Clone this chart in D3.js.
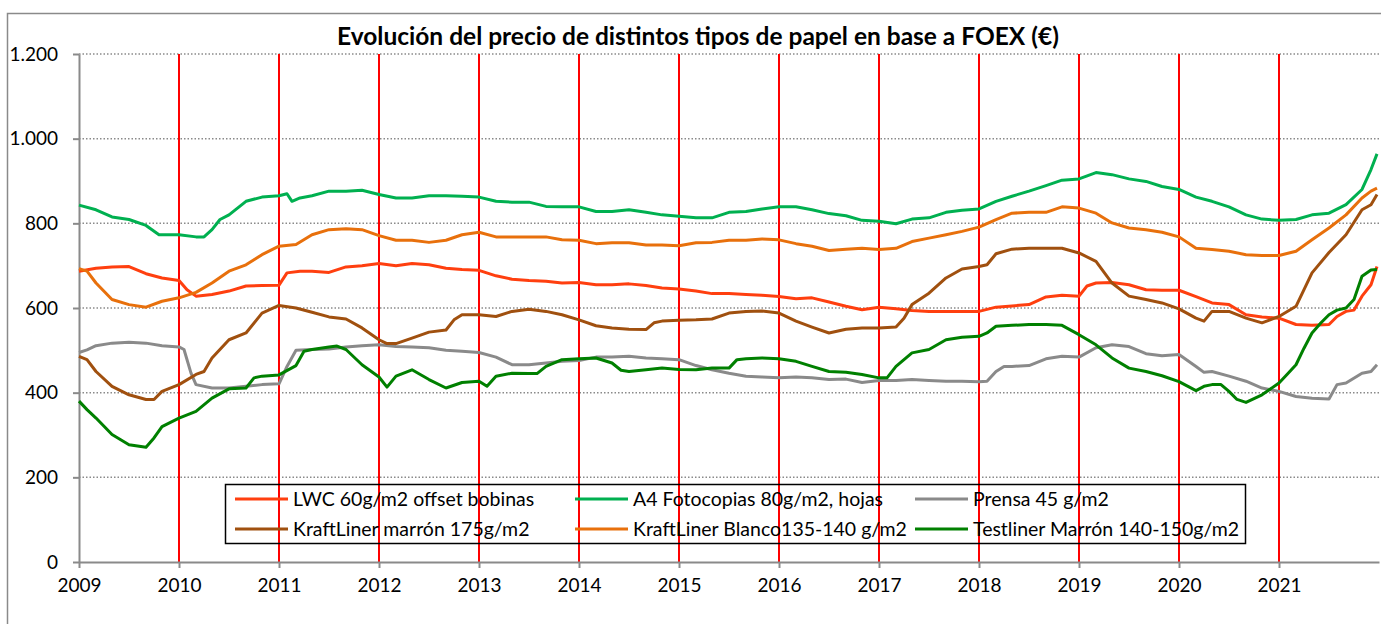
<!DOCTYPE html>
<html>
<head>
<meta charset="utf-8">
<script src="https://cdn.jsdelivr.net/npm/d3@7"></script>
<style>
  body { margin: 0; background: #fff; }
  svg { display: block; font-family: Lato, "Liberation Sans", sans-serif; }
</style>
</head>
<body>
<svg id="chart" width="1381" height="624"></svg>
<script>
// values, [year, €]
const lwc = [[2009.00,687],[2009.17,694],[2009.33,697],[2009.5,698],[2009.67,681],[2009.83,671],[2010.0,665],[2010.08,643],[2010.17,628],[2010.33,632],[2010.5,640],[2010.67,652],[2010.83,653],[2011.0,654],[2011.08,683],[2011.21,687],[2011.33,687],[2011.5,684],[2011.67,697],[2011.83,700],[2012.0,705],[2012.17,700],[2012.33,705],[2012.5,702],[2012.67,694],[2012.83,691],[2013.0,689],[2013.17,676],[2013.33,668],[2013.5,665],[2013.67,663],[2013.83,659],[2014.0,660],[2014.17,655],[2014.33,655],[2014.5,657],[2014.67,653],[2014.83,647],[2015.0,645],[2015.17,640],[2015.33,634],[2015.5,634],[2015.67,632],[2015.83,630],[2016.0,627],[2016.17,622],[2016.33,624],[2016.5,614],[2016.67,604],[2016.83,596],[2017.0,602],[2017.17,598],[2017.33,594],[2017.5,592],[2017.67,592],[2017.83,592],[2018.0,592],[2018.17,602],[2018.33,605],[2018.5,608],[2018.67,626],[2018.83,630],[2019.0,628],[2019.08,652],[2019.17,659],[2019.33,660],[2019.5,655],[2019.67,643],[2019.83,642],[2020.0,642],[2020.17,627],[2020.33,612],[2020.5,608],[2020.67,584],[2020.83,579],[2021.0,576],[2021.17,561],[2021.33,559],[2021.5,561],[2021.58,580],[2021.67,592],[2021.75,595],[2021.83,628],[2021.92,655],[2021.98,698]];

const a4 = [[2009.0,843],[2009.17,832],[2009.33,815],[2009.5,809],[2009.67,795],[2009.8,773],[2010.0,773],[2010.17,768],[2010.25,768],[2010.33,785],[2010.41,809],[2010.5,820],[2010.67,852],[2010.83,862],[2011.0,865],[2011.08,870],[2011.13,852],[2011.21,860],[2011.33,865],[2011.5,876],[2011.67,876],[2011.83,878],[2012.0,868],[2012.17,860],[2012.33,860],[2012.5,865],[2012.67,865],[2012.83,864],[2013.0,862],[2013.17,852],[2013.33,850],[2013.5,850],[2013.67,840],[2013.83,839],[2014.0,839],[2014.17,828],[2014.33,828],[2014.5,832],[2014.67,826],[2014.83,820],[2015.0,817],[2015.17,813],[2015.33,813],[2015.5,826],[2015.67,828],[2015.83,834],[2016.0,839],[2016.17,839],[2016.33,832],[2016.5,823],[2016.67,818],[2016.83,807],[2017.0,805],[2017.17,799],[2017.33,810],[2017.5,813],[2017.67,826],[2017.83,831],[2018.0,834],[2018.17,852],[2018.33,864],[2018.5,876],[2018.67,889],[2018.83,902],[2019.0,905],[2019.17,920],[2019.33,915],[2019.5,905],[2019.67,899],[2019.83,887],[2020.0,880],[2020.17,862],[2020.33,852],[2020.5,839],[2020.67,820],[2020.83,810],[2021.0,807],[2021.17,809],[2021.33,820],[2021.5,824],[2021.67,844],[2021.83,880],[2021.92,927],[2021.98,964]];

const prensa = [[2009.0,495],[2009.08,501],[2009.17,511],[2009.33,517],[2009.5,519],[2009.67,517],[2009.83,511],[2010.0,508],[2010.05,502],[2010.12,446],[2010.17,419],[2010.33,411],[2010.5,411],[2010.67,415],[2010.83,419],[2011.0,421],[2011.08,462],[2011.17,500],[2011.33,502],[2011.5,503],[2011.67,508],[2011.83,511],[2012.0,513],[2012.17,509],[2012.33,508],[2012.5,506],[2012.67,500],[2012.83,498],[2013.0,495],[2013.17,484],[2013.33,466],[2013.5,466],[2013.67,470],[2013.83,474],[2014.0,476],[2014.17,484],[2014.33,484],[2014.5,486],[2014.67,482],[2014.83,480],[2015.0,478],[2015.17,464],[2015.33,454],[2015.5,446],[2015.67,439],[2015.83,437],[2016.0,435],[2016.17,437],[2016.33,435],[2016.5,431],[2016.67,432],[2016.83,424],[2017.0,429],[2017.17,429],[2017.33,431],[2017.5,429],[2017.67,427],[2017.83,427],[2018.0,426],[2018.08,427],[2018.17,450],[2018.25,462],[2018.33,462],[2018.5,464],[2018.67,480],[2018.83,486],[2019.0,484],[2019.17,506],[2019.33,513],[2019.5,509],[2019.67,492],[2019.83,487],[2020.0,490],[2020.17,462],[2020.25,448],[2020.33,450],[2020.5,439],[2020.67,427],[2020.83,411],[2021.0,403],[2021.17,391],[2021.33,387],[2021.5,385],[2021.58,419],[2021.67,423],[2021.83,446],[2021.92,450],[2021.98,466]];

const kraftMarron = [[2009.0,486],[2009.08,478],[2009.17,450],[2009.33,415],[2009.5,395],[2009.67,384],[2009.75,384],[2009.83,403],[2010.0,419],[2010.17,443],[2010.25,450],[2010.33,482],[2010.5,525],[2010.67,541],[2010.83,588],[2011.0,606],[2011.17,600],[2011.33,590],[2011.5,579],[2011.67,574],[2011.83,553],[2012.0,525],[2012.08,516],[2012.17,516],[2012.33,529],[2012.5,543],[2012.67,548],[2012.75,572],[2012.83,584],[2013.0,584],[2013.17,580],[2013.33,592],[2013.5,597],[2013.67,592],[2013.83,584],[2014.0,572],[2014.17,558],[2014.33,553],[2014.5,550],[2014.67,549],[2014.75,565],[2014.83,569],[2015.0,571],[2015.17,572],[2015.33,574],[2015.5,588],[2015.67,592],[2015.83,593],[2016.0,588],[2016.17,569],[2016.33,555],[2016.5,541],[2016.67,550],[2016.83,553],[2017.0,553],[2017.17,555],[2017.25,576],[2017.33,608],[2017.5,635],[2017.67,671],[2017.83,692],[2018.0,698],[2018.08,702],[2018.17,728],[2018.33,739],[2018.5,741],[2018.67,741],[2018.83,741],[2019.0,730],[2019.17,710],[2019.33,659],[2019.5,628],[2019.67,620],[2019.83,612],[2020.0,598],[2020.17,576],[2020.25,569],[2020.33,592],[2020.5,592],[2020.67,576],[2020.83,565],[2021.0,580],[2021.17,604],[2021.33,683],[2021.5,731],[2021.67,773],[2021.83,832],[2021.92,844],[2021.98,868]];

const kraftBlanco = [[2009.0,693],[2009.08,687],[2009.17,659],[2009.33,620],[2009.5,608],[2009.67,602],[2009.83,616],[2010.0,624],[2010.17,637],[2010.33,659],[2010.5,687],[2010.67,702],[2010.83,726],[2011.0,746],[2011.17,750],[2011.33,773],[2011.5,785],[2011.67,787],[2011.83,785],[2012.0,771],[2012.17,760],[2012.33,760],[2012.5,755],[2012.67,760],[2012.83,773],[2013.0,779],[2013.17,768],[2013.33,768],[2013.5,768],[2013.67,768],[2013.83,761],[2014.0,760],[2014.17,752],[2014.33,754],[2014.5,754],[2014.67,749],[2014.83,749],[2015.0,747],[2015.17,754],[2015.33,755],[2015.5,760],[2015.67,760],[2015.83,763],[2016.0,761],[2016.17,752],[2016.33,746],[2016.5,736],[2016.67,739],[2016.83,741],[2017.0,738],[2017.17,741],[2017.33,757],[2017.5,765],[2017.67,773],[2017.83,781],[2018.0,791],[2018.17,809],[2018.33,824],[2018.5,826],[2018.67,826],[2018.83,839],[2019.0,836],[2019.17,824],[2019.33,801],[2019.5,789],[2019.67,785],[2019.83,779],[2020.0,768],[2020.17,741],[2020.33,738],[2020.5,734],[2020.67,726],[2020.83,724],[2021.0,724],[2021.17,734],[2021.33,761],[2021.5,789],[2021.67,820],[2021.83,860],[2021.92,876],[2021.98,883]];

const testliner = [[2009.0,380],[2009.08,360],[2009.17,340],[2009.33,301],[2009.5,277],[2009.67,271],[2009.75,293],[2009.83,320],[2010.0,340],[2010.17,356],[2010.33,387],[2010.5,409],[2010.67,411],[2010.75,435],[2010.83,439],[2011.0,442],[2011.17,464],[2011.25,498],[2011.33,502],[2011.5,508],[2011.58,510],[2011.67,502],[2011.83,466],[2012.0,437],[2012.08,413],[2012.17,439],[2012.33,454],[2012.5,431],[2012.67,411],[2012.83,424],[2013.0,427],[2013.08,415],[2013.17,439],[2013.33,446],[2013.5,445],[2013.58,445],[2013.67,462],[2013.83,478],[2014.0,480],[2014.17,482],[2014.33,470],[2014.42,453],[2014.5,450],[2014.67,454],[2014.83,458],[2015.0,455],[2015.17,454],[2015.33,458],[2015.5,458],[2015.58,478],[2015.67,480],[2015.83,482],[2016.0,480],[2016.17,474],[2016.33,462],[2016.5,450],[2016.67,448],[2016.83,443],[2017.0,435],[2017.08,435],[2017.17,462],[2017.33,494],[2017.5,502],[2017.67,525],[2017.83,531],[2018.0,533],[2018.08,541],[2018.17,557],[2018.33,559],[2018.5,561],[2018.67,561],[2018.83,559],[2019.0,537],[2019.17,513],[2019.33,482],[2019.5,458],[2019.67,450],[2019.83,440],[2020.0,426],[2020.17,405],[2020.25,415],[2020.33,419],[2020.42,419],[2020.5,403],[2020.58,384],[2020.67,377],[2020.83,395],[2021.0,423],[2021.08,443],[2021.17,466],[2021.25,505],[2021.33,541],[2021.42,565],[2021.5,584],[2021.58,595],[2021.67,600],[2021.75,620],[2021.83,675],[2021.92,690],[2021.98,691]];

const seriesNames = ["LWC 60g/m2 offset bobinas", "A4 Fotocopias 80g/m2, hojas", "Prensa 45 g/m2",
                     "KraftLiner marrón 175g/m2", "KraftLiner Blanco135-140 g/m2", "Testliner Marrón 140-150g/m2"];
const seriesData = [lwc, a4, prensa, kraftMarron, kraftBlanco, testliner];
const seriesColors = ["#FF3F0F", "#00B050", "#8A8A8A", "#A0500F", "#E8700C", "#008000"];
const yearTicks = d3.range(2009, 2022);
const valueTicks = d3.range(0, 1201, 200);
const title = "Evolución del precio de distintos tipos de papel en base a FOEX (€)";

const svg = d3.select("#chart");
const x = d3.scaleLinear().domain([2009, 2022]).range([79, 1379]);
const y = d3.scaleLinear().domain([0, 1200]).range([562, 54]);
const es = d3.formatLocale({decimal: ",", thousands: ".", grouping: [3], currency: ["", " €"]});

// outer frame
svg.append("rect")
  .attr("x", 7.5).attr("y", 13.5).attr("width", 1380).attr("height", 620)
  .attr("fill", "none").attr("stroke", "#8a8a8a").attr("stroke-width", 1.5);

svg.append("text")
  .attr("x", 698).attr("y", 45)
  .attr("text-anchor", "middle")
  .attr("font-size", 24.5).attr("font-weight", "bold")
  .text(title);

// dotted gridlines
svg.append("g")
  .selectAll("line")
  .data(valueTicks.filter(d => d > 0))
  .join("line")
    .attr("x1", x(2009)).attr("x2", x(2022))
    .attr("y1", d => y(d)).attr("y2", d => y(d))
    .attr("stroke", "#8a8a8a").attr("stroke-width", 1.5)
    .attr("stroke-dasharray", "1.5,2");

// red year markers
svg.append("g")
  .selectAll("line")
  .data(yearTicks.filter(d => d > 2009))
  .join("line")
    .attr("x1", d => x(d)).attr("x2", d => x(d))
    .attr("y1", y(1200)).attr("y2", y(0))
    .attr("stroke", "#FF0000").attr("stroke-width", 2);

// axes
const yAxis = svg.append("g")
  .attr("transform", `translate(${x(2009)},0)`)
  .call(d3.axisLeft(y).tickValues(valueTicks).tickFormat(es.format(",d")).tickSize(6).tickSizeOuter(0).tickPadding(15));

const xAxis = svg.append("g")
  .attr("transform", `translate(0,${y(0)})`)
  .call(d3.axisBottom(x).tickValues(yearTicks).tickFormat(d3.format("d")).tickSize(6).tickSizeOuter(0).tickPadding(11));

[yAxis, xAxis].forEach(g => {
  g.selectAll(".domain, line").attr("stroke", "#8a8a8a").attr("stroke-width", 2);
  g.selectAll("text").attr("font-size", 19).attr("fill", "#000").attr("font-family", "Lato, sans-serif");
});

// data lines
const line = d3.line().x(d => x(d[0])).y(d => y(d[1]));
svg.append("g")
  .selectAll("path")
  .data(seriesData)
  .join("path")
    .attr("d", line)
    .attr("fill", "none")
    .attr("stroke", (d, i) => seriesColors[i])
    .attr("stroke-width", 3)
    .attr("stroke-linejoin", "round");

// legend
const legend = svg.append("g");
legend.append("rect")
  .attr("x", 225.5).attr("y", 484.5).attr("width", 1020).attr("height", 59)
  .attr("fill", "none").attr("stroke", "#000").attr("stroke-width", 1.5);

const colX = [235, 575, 915];
const rowY = [499, 529];
const item = legend.selectAll("g")
  .data(seriesNames)
  .join("g")
    .attr("transform", (d, i) => `translate(${colX[i % 3]},${rowY[Math.floor(i / 3)]})`);
item.append("line")
  .attr("x1", 0).attr("x2", 53)
  .attr("stroke", (d, i) => seriesColors[i]).attr("stroke-width", 3);
item.append("text")
  .attr("x", 58).attr("dy", "0.35em")
  .attr("font-size", 19.5)
  .text(d => d);
</script>
</body>
</html>
